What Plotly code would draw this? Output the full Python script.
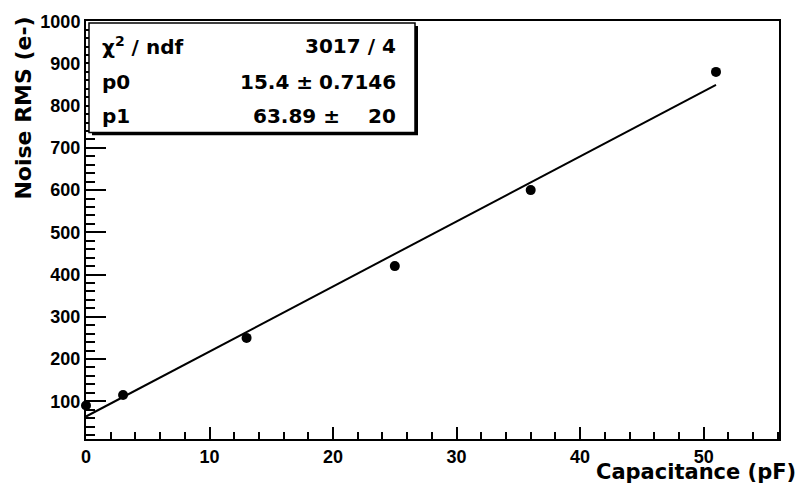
import plotly.graph_objects as go

# Data
capacitance_pf = [0, 3, 13, 25, 36, 51]
noise_rms = [90, 115, 250, 420, 600, 880]

# Fit y = p0*x + p1
p0 = 15.4
p1 = 63.89
fit_x = [0, 51]
fit_y = [p0 * x + p1 for x in fit_x]

stats_rows = [
    ("χ<sup>2</sup> / ndf", "3017 / 4", None),
    ("p0", "15.4 ±", "0.7146"),
    ("p1", "63.89 ±", "20"),
]

W, H = 798, 487
L, R, T, B = 86, 779, 15, 439
pw, ph = R - L, B - T


def px(xp):
    return (xp - L) / pw


def py(yp):
    return (B - yp) / ph


FONT = "Liberation Sans, Arial, Helvetica, sans-serif"
WFONT = "DejaVu Sans, Liberation Sans, sans-serif"

fig = go.Figure()
fig.add_trace(go.Scatter(x=fit_x, y=fit_y, mode="lines",
                         line=dict(color="black", width=2), showlegend=False))
fig.add_trace(go.Scatter(x=capacitance_pf, y=noise_rms, mode="markers",
                         marker=dict(color="black", size=10), showlegend=False,
                         cliponaxis=False))

axis_common = dict(
    showline=True, linecolor="black", linewidth=2, mirror=True,
    showgrid=False, zeroline=False, ticks="inside", tickcolor="black",
    tickwidth=1.5,
    tickfont=dict(family=FONT, size=18, color="black", weight="bold"),
)

fig.update_xaxes(range=[0, 56.1], dtick=10, tick0=0, ticklen=12,
                 minor=dict(ticks="inside", dtick=2, ticklen=7, tickcolor="black", tickwidth=1.5),
                 **axis_common)
fig.update_yaxes(range=[10.6, 1000.5], dtick=100, tick0=0, ticklen=20,
                 minor=dict(ticks="inside", dtick=20, ticklen=9, tickcolor="black", tickwidth=1.5),
                 ticklabelstandoff=0,
                 **axis_common)

shapes = [
    dict(type="rect", xref="paper", yref="paper",
         x0=px(92), x1=px(418), y0=py(131), y1=py(20),
         fillcolor="black", line=dict(width=0)),
    dict(type="rect", xref="paper", yref="paper",
         x0=px(89), x1=px(415), y0=py(128), y1=py(17),
         fillcolor="white", line=dict(color="black", width=1.5)),
]

stat_font = dict(family=WFONT, size=20, color="black", weight="bold")
annotations = []
row_y = [40, 77, 111]
for (lab, val, err), yy in zip(stats_rows, row_y):
    annotations.append(dict(text=lab, xref="paper", yref="paper", x=px(100), y=py(yy),
                            xanchor="left", yanchor="middle", showarrow=False,
                            font=stat_font))
    if err is None:
        annotations.append(dict(text=val, xref="paper", yref="paper", x=px(398), y=py(yy),
                                xanchor="right", yanchor="middle", showarrow=False,
                                font=stat_font))
    else:
        pm_right = 315 if lab == "p0" else 342
        annotations.append(dict(text=val, xref="paper", yref="paper", x=px(pm_right), y=py(yy),
                                xanchor="right", yanchor="middle", showarrow=False,
                                font=stat_font))
        annotations.append(dict(text=err, xref="paper", yref="paper", x=px(398), y=py(yy),
                                xanchor="right", yanchor="middle", showarrow=False,
                                font=stat_font))

title_font = dict(family=WFONT, size=21, color="black", weight="bold")
annotations.append(dict(text="Capacitance (pF)", xref="paper", yref="paper",
                        x=px(798), y=py(472), xanchor="right", yanchor="middle",
                        showarrow=False, font=title_font))
annotations.append(dict(text="Noise RMS (e-)", xref="paper", yref="paper",
                        x=px(24), y=py(9), xanchor="center", yanchor="top",
                        textangle=-90, showarrow=False,
                        font=dict(family=WFONT, size=22, color="black", weight="bold")))

fig.update_layout(
    width=W, height=H,
    margin=dict(l=L, r=W - R, t=T, b=H - B),
    paper_bgcolor="white", plot_bgcolor="white",
    shapes=shapes, annotations=annotations,
    showlegend=False,
)

fig.write_html("out.html", post_script="document.body.style.margin='0';",
               config={"displayModeBar": False})
